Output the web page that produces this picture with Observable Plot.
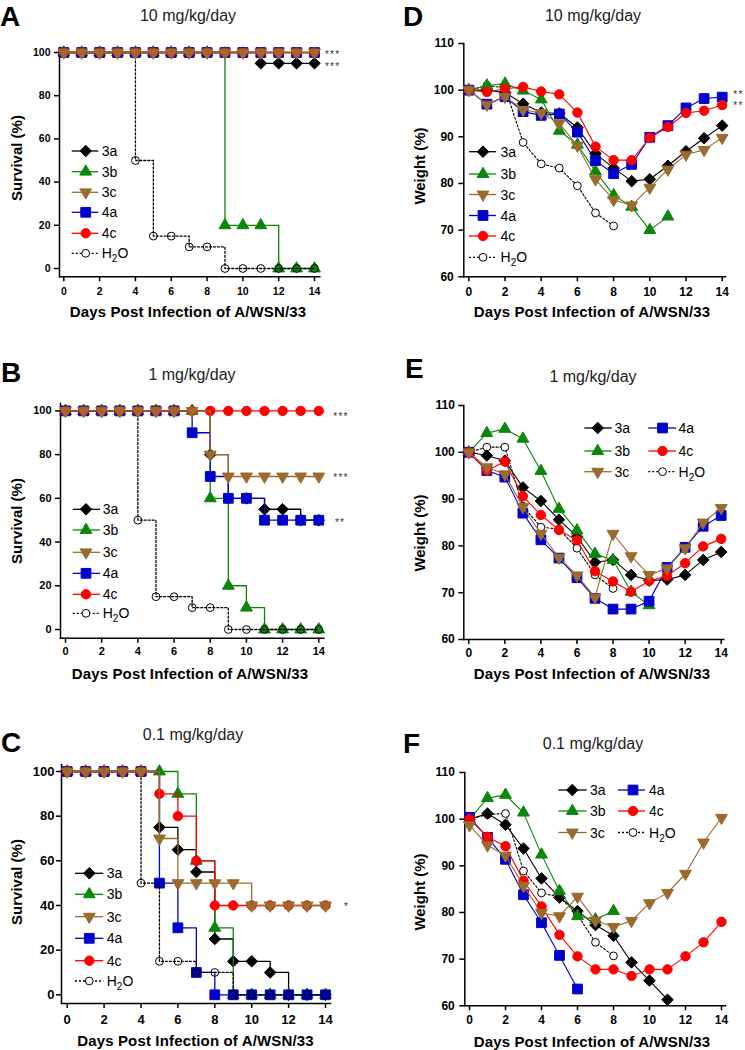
<!DOCTYPE html>
<html><head><meta charset="utf-8">
<script src="https://cdn.jsdelivr.net/npm/d3@7"></script>
<script src="https://cdn.jsdelivr.net/npm/@observablehq/plot@0.6"></script>
<style>
html,body{margin:0;padding:0;background:#fff;}
#root{position:relative;width:745px;height:1050px;overflow:hidden;background:#fff;}
#root svg{position:absolute;}
</style></head>
<body><div id="root"></div>
<script>
// ---------- data ----------
const days = [0,1,2,3,4,5,6,7,8,9,10,11,12,13,14];
const dayTicks = [0,2,4,6,8,10,12,14];
const survivalTicks = [0,20,40,60,80,100];
const weightTicks = [60,70,80,90,100,110];
const seriesNames = ["3a","3b","3c","4a","4c","H2O"];
const panelLetters = ["A","B","C","D","E","F"];
const doseTitles = ["10 mg/kg/day","1 mg/kg/day","0.1 mg/kg/day"];
const xTitle = "Days Post Infection of A/WSN/33";

// A: survival, 10 mg/kg/day
const survA_3a  = [100,100,100,100,100,100,100,100,100,100,100,95,95,95,95];
const survA_3b  = [100,100,100,100,100,100,100,100,100,20,20,20,0,0,0];
const survA_3c  = [100,100,100,100,100,100,100,100,100,100,100,100,100,100,100];
const survA_4a  = [100,100,100,100,100,100,100,100,100,100,100,100,100,100,100];
const survA_4c  = [100,100,100,100,100,100,100,100,100,100,100,100,100,100,100];
const survA_H2O = [100,100,100,100,50,15,15,10,10,0,0,0,0,0,0];
// B: survival, 1 mg/kg/day
const survB_3a  = [100,100,100,100,100,100,100,100,80,60,60,55,55,50,50];
const survB_3b  = [100,100,100,100,100,100,100,100,60,20,10,0,0,0,0];
const survB_3c  = [100,100,100,100,100,100,100,100,80,70,70,70,70,70,70];
const survB_4a  = [100,100,100,100,100,100,100,90,70,60,60,50,50,50,50];
const survB_4c  = [100,100,100,100,100,100,100,100,100,100,100,100,100,100,100];
const survB_H2O = [100,100,100,100,50,15,15,10,10,0,0,0,0,0,0];
// C: survival, 0.1 mg/kg/day
const survC_3a  = [100,100,100,100,100,75,65,55,25,15,15,10,0,0,0];
const survC_3b  = [100,100,100,100,100,100,90,60,30,0,0,0,0,0,0];
const survC_3c  = [100,100,100,100,100,70,50,50,50,50,40,40,40,40,40];
const survC_4a  = [100,100,100,100,100,50,30,10,0,0,0,0,0,0,0];
const survC_4c  = [100,100,100,100,100,90,80,60,40,40,40,40,40,40,40];
const survC_H2O = [100,100,100,100,50,15,15,10,10,0,0,0,0,0,0];
// D: weight, 10 mg/kg/day
const wD_3a  = [100,100,99.5,97.1,95.2,95.0,92.0,86.4,83.3,80.5,80.9,83.8,86.9,89.7,92.4];
const wD_3b  = [100,101.0,101.4,99.9,98.0,91.3,88.3,82.6,77.5,75.0,70.0,72.9];
const wD_3c  = [100,96.9,98.6,95.8,95.1,92.9,88.1,80.9,76.5,75.3,79.1,83.0,86.2,87.2,89.8];
const wD_4a  = [100,97.0,98.6,95.4,94.6,94.9,91.0,84.9,82.1,84.1,89.9,92.4,96.2,98.2,98.5];
const wD_4c  = [100,99.6,100.3,100.7,99.7,99.1,95.2,87.9,85.0,85.0,89.8,92.1,95.1,95.6,96.8];
const wD_H2O = [100,101.0,100.5,88.8,84.2,83.3,79.5,73.7,70.9];
// E: weight, 1 mg/kg/day
const wE_3a  = [100,99.3,98.2,92.5,89.6,85.6,82.0,76.5,77.0,73.8,72.6,72.8,73.8,77.0,78.7];
const wE_3b  = [100,104.1,105.0,102.9,96.0,87.9,83.3,78.3,77.0,70.2,67.3];
const wE_3c  = [100,96.8,95.3,88.3,82.6,77.5,73.7,69.0,82.6,77.8,73.8,75.2,79.5,85.0,88.1];
const wE_4a  = [100,96.1,94.7,87.0,81.3,77.4,73.2,68.8,66.5,66.5,68.2,75.4,79.7,84.2,86.5];
const wE_4c  = [100,96.1,98.0,90.6,86.6,83.4,81.2,74.6,72.4,70.2,72.5,73.6,76.3,79.9,81.5];
const wE_H2O = [100,101.1,101.1,88.5,84.0,83.6,79.5,73.8,70.9];
// F: weight, 0.1 mg/kg/day
const wF_3a  = [100,101.2,98.8,93.7,87.3,83.2,80.3,77.3,75.0,69.3,65.4,61.3];
const wF_3b  = [100,104.5,105.2,101.4,92.4,84.6,79.2,78.5,80.3];
const wF_3c  = [98.7,94.4,92.2,85.7,79.9,79.2,83.4,78.3,76.9,78.2,82.0,84.2,88.3,95.0,100.3];
const wF_4a  = [100.4,96.1,91.4,83.8,77.8,70.8,63.6];
const wF_4c  = [100,96.2,94.2,86.8,81.3,75.2,70.6,67.8,67.8,66.4,67.8,67.8,70.6,73.6,78.0];
const wF_H2O = [100,101.0,101.2,88.9,84.2,83.3,79.5,73.6,70.7];

// ---------- styling ----------
const FONT = '"Liberation Sans", Arial, Helvetica, sans-serif';
const triDown = {
  draw(ctx, size) {
    const y = -Math.sqrt(size / (Math.sqrt(3) * 3));
    ctx.moveTo(0, -2 * y);
    ctx.lineTo(-Math.sqrt(3) * y, y);
    ctx.lineTo(Math.sqrt(3) * y, y);
    ctx.closePath();
  }
};
const styles = {
  "3a":  {color: "#000000", symbol: "diamond2", d3sym: d3.symbolDiamond2, r: 5.2},
  "3b":  {color: "#0a870a", symbol: "triangle", d3sym: d3.symbolTriangle, r: 4.4},
  "3c":  {color: "#9a6a2e", symbol: triDown, d3sym: triDown, r: 4.4},
  "4a":  {color: "#0000cc", symbol: "square", d3sym: d3.symbolSquare, r: 5.5},
  "4c":  {color: "#ff0000", symbol: "circle", d3sym: d3.symbolCircle, r: 4.7},
  "H2O": {color: "#000000", symbol: "circle", d3sym: d3.symbolCircle, r: 3.9, fill: "#ffffff", dash: "2,2"}
};

const root = document.getElementById("root");

function panel(cfg) {
  const width = 370;
  const left = cfg.left;
  const top = cfg.axisTop - 12;
  const height = cfg.axisBottom + 30 - top;
  const marks = [
    Plot.frame({anchor: "left", stroke: "#000", strokeWidth: 1.5}),
    Plot.frame({anchor: "bottom", stroke: "#000", strokeWidth: 1.5}),
    Plot.axisX({ticks: dayTicks, tickSize: 5, tickPadding: cfg.xPad, strokeWidth: 1.5, label: null,
      fontSize: cfg.fs, fontWeight: "bold", fill: "#000", fontFamily: FONT}),
    Plot.axisY({ticks: cfg.yTicks, tickSize: 5, tickPadding: cfg.yPad, strokeWidth: 1.5, label: null,
      fontSize: cfg.fs, fontWeight: "bold", fill: "#000", fontFamily: FONT})
  ];
  for (const name of cfg.order) {
    const vals = cfg.data[name];
    const rows = vals.map((v, i) => ({day: days[i], v, series: name}));
    const st = styles[name];
    const fill = name === "H2O" ? cfg.openFill : st.color;
    marks.push(Plot.line(rows, {x: "day", y: "v", curve: cfg.curve, stroke: st.color,
      strokeWidth: cfg.lw, strokeDasharray: st.dash}));
    marks.push(Plot.dot(rows, {x: "day", y: "v", symbol: st.symbol, r: st.r,
      fill, stroke: st.color, strokeWidth: 1}));
  }
  const svg = Plot.plot({
    width, height,
    marginLeft: cfg.axisLeft - left,
    marginRight: left + width - cfg.axisRight,
    marginTop: cfg.axisTop - top,
    marginBottom: top + height - cfg.axisBottom,
    x: {domain: [0, 14], range: [cfg.x0 - left, cfg.x14 - left]},
    y: {domain: cfg.yDomain, range: [cfg.yLo - top, cfg.yHi - top]},
    style: {fontFamily: FONT, fontWeight: "bold", color: "#000", background: "none", overflow: "visible"},
    marks
  });
  svg.style.position = "absolute";
  svg.style.left = left + "px";
  svg.style.top = top + "px";
  root.appendChild(svg);
}

const survOrderAB = ["3a","3b","H2O","4a","4c","3c"];
const survOrderC = ["3a","3b","4a","H2O","4c","3c"];
const weightOrder = ["H2O","3a","3b","4a","4c","3c"];

panel({left: 0, x0: 63.3, x14: 314, yDomain: [0,100], yLo: 267.7, yHi: 51.7,
  axisLeft: 59, axisRight: 319.3, axisTop: 46.7, axisBottom: 276, yTicks: survivalTicks,
  curve: "step-after", lw: 1.3, fs: 10.5, xPad: 6, yPad: 4, order: survOrderAB, openFill: "none",
  data: {"3a": survA_3a, "3b": survA_3b, "3c": survA_3c, "4a": survA_4a, "4c": survA_4c, "H2O": survA_H2O}});
panel({left: 0, x0: 65, x14: 318.3, yDomain: [0,100], yLo: 629.3, yHi: 410.7,
  axisLeft: 60, axisRight: 323.3, axisTop: 403.3, axisBottom: 638, yTicks: survivalTicks,
  curve: "step-after", lw: 1.3, fs: 11, xPad: 4, yPad: 4, order: survOrderAB, openFill: "none",
  data: {"3a": survB_3a, "3b": survB_3b, "3c": survB_3c, "4a": survB_4a, "4c": survB_4c, "H2O": survB_H2O}});
panel({left: 0, x0: 66.7, x14: 325, yDomain: [0,100], yLo: 994.3, yHi: 771,
  axisLeft: 61, axisRight: 330, axisTop: 764, axisBottom: 1003, yTicks: survivalTicks,
  curve: "step-after", lw: 1.3, fs: 13, xPad: 6, yPad: 2, order: survOrderC, openFill: "none",
  data: {"3a": survC_3a, "3b": survC_3b, "3c": survC_3c, "4a": survC_4a, "4c": survC_4c, "H2O": survC_H2O}});
panel({left: 375, x0: 468.3, x14: 721.7, yDomain: [60,110], yLo: 276, yHi: 42.7,
  axisLeft: 463.3, axisRight: 725, axisTop: 42.7, axisBottom: 276, yTicks: weightTicks,
  curve: "linear", lw: 1.1, fs: 12, xPad: 6, yPad: 5, order: weightOrder, openFill: "#ffffff",
  data: {"3a": wD_3a, "3b": wD_3b, "3c": wD_3c, "4a": wD_4a, "4c": wD_4c, "H2O": wD_H2O}});
panel({left: 375, x0: 468.3, x14: 720.7, yDomain: [60,110], yLo: 639, yHi: 405,
  axisLeft: 463.3, axisRight: 723.3, axisTop: 405, axisBottom: 639, yTicks: weightTicks,
  curve: "linear", lw: 1.1, fs: 12, xPad: 4, yPad: 4, order: weightOrder, openFill: "#ffffff",
  data: {"3a": wE_3a, "3b": wE_3b, "3c": wE_3c, "4a": wE_4a, "4c": wE_4c, "H2O": wE_H2O}});
panel({left: 375, x0: 469, x14: 721, yDomain: [60,110], yLo: 1005, yHi: 771.7,
  axisLeft: 464.3, axisRight: 725, axisTop: 771.7, axisBottom: 1005, yTicks: weightTicks,
  curve: "linear", lw: 1.1, fs: 12, xPad: 5, yPad: 5, order: weightOrder, openFill: "#ffffff",
  data: {"3a": wF_3a, "3b": wF_3b, "3c": wF_3c, "4a": wF_4a, "4c": wF_4c, "H2O": wF_H2O}});

// ---------- annotation overlay (letters, titles, axis titles, legends, stars) ----------
const ov = d3.create("svg").attr("width", 745).attr("height", 1050)
  .style("left", "0px").style("top", "0px").style("overflow", "visible")
  .attr("font-family", FONT);

const letterPos = [[0,25.5],[1,381.7],[1,751.5],[403,25.5],[405,378.3],[403,753]];
panelLetters.forEach((t, i) => ov.append("text").attr("x", letterPos[i][0]).attr("y", letterPos[i][1])
  .attr("font-size", 28).attr("font-weight", "bold").attr("fill", "#000").text(t));

const titlePos = [[188,21],[192,380],[193,740],[593,21],[593,381.5],[593,749]];
titlePos.forEach((p, i) => ov.append("text").attr("x", p[0]).attr("y", p[1]).attr("text-anchor", "middle")
  .attr("font-size", 16).attr("fill", "#222").text(doseTitles[i % 3]));

const xTitlePos = [[188,317],[190,679],[195.5,1046],[592,317],[592,679],[592,1047]];
xTitlePos.forEach(p => ov.append("text").attr("x", p[0]).attr("y", p[1]).attr("text-anchor", "middle")
  .attr("font-size", 15).attr("font-weight", "bold").attr("letter-spacing", "0.15px").attr("fill", "#000").text(xTitle));

const yTitles = [[22,158,"Survival (%)"],[21.5,521,"Survival (%)"],[22,882,"Survival (%)"],
  [425,166,"Weight (%)"],[425,533,"Weight (%)"],[425,892,"Weight (%)"]];
yTitles.forEach(p => ov.append("text").attr("transform", `translate(${p[0]},${p[1]}) rotate(-90)`)
  .attr("text-anchor", "middle").attr("font-size", 15).attr("font-weight", "bold").attr("fill", "#000").text(p[2]));

function legend(names, ys, col) {
  names.forEach((name, i) => {
    const st = styles[name], y = ys[i];
    ov.append("line").attr("x1", col.x1).attr("x2", col.x2).attr("y1", y).attr("y2", y)
      .attr("stroke", st.color).attr("stroke-width", 1.3).attr("stroke-dasharray", st.dash || null);
    ov.append("path").attr("transform", `translate(${col.mx},${y})`)
      .attr("d", d3.symbol(st.d3sym, Math.PI * st.r * st.r)())
      .attr("fill", st.fill || st.color).attr("stroke", st.color).attr("stroke-width", 1);
    const t = ov.append("text").attr("x", col.tx).attr("y", y + 5).attr("font-size", 14).attr("fill", "#000");
    if (name === "H2O") {
      t.append("tspan").text("H");
      t.append("tspan").attr("font-size", 10).attr("dy", 4).text("2");
      t.append("tspan").attr("dy", -4).text("O");
    } else t.text(name);
  });
}
legend(seriesNames, [151,171.7,192.3,212.3,233.3,253.3], {x1: 71.7, x2: 98.3, mx: 85.7, tx: 101.7});
legend(seriesNames, [509.3,530,552.3,573.3,594.3,613.3], {x1: 72.7, x2: 100, mx: 86, tx: 102.7});
legend(seriesNames, [873.3,894.3,916.7,938.3,960.7,981], {x1: 75, x2: 103.3, mx: 89.3, tx: 106.7});
legend(seriesNames, [151.7,174,194.5,215.5,236,257.3], {x1: 469, x2: 496, mx: 483, tx: 500.5});
legend(["3a","3b","3c"], [428,451,471.7], {x1: 584.3, x2: 611.7, mx: 597.7, tx: 614.5});
legend(["4a","4c","H2O"], [428,451,471.7], {x1: 648.3, x2: 676, mx: 662.5, tx: 678.5});
legend(["3a","3b","3c"], [790,811,832.5], {x1: 558.3, x2: 586.7, mx: 572.3, tx: 590});
legend(["4a","4c","H2O"], [790,811,832.5], {x1: 618, x2: 645, mx: 633, tx: 649});

const stars = [[325,57.8,"***"],[325,69.8,"***"],[733.3,97.5,"**"],[733.3,109.2,"**"],
  [333.3,419.5,"***"],[333.3,480.5,"***"],[335,526,"**"],[344,910,"*"]];
stars.forEach(s => ov.append("text").attr("x", s[0]).attr("y", s[1]).attr("font-size", 10)
  .attr("letter-spacing", "1.2px").attr("fill", "#333").text(s[2]));

root.appendChild(ov.node());
</script>
</body></html>
